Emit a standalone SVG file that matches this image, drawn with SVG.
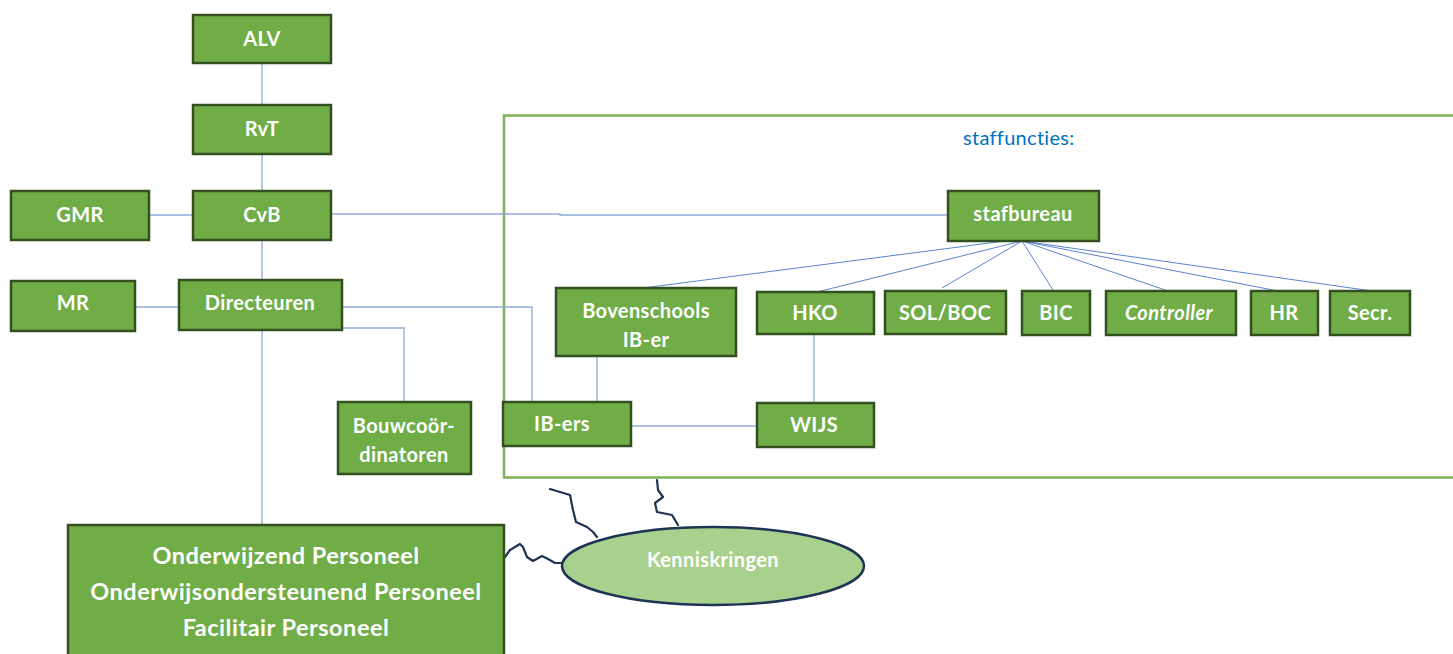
<svg xmlns="http://www.w3.org/2000/svg" width="1453" height="654" viewBox="0 0 1453 654">
<style>
.n{fill:#70ad47;stroke:#344f20;stroke-width:2.5}
.t{font-family:Lato,"Liberation Sans",sans-serif;font-weight:bold;fill:#fff;font-size:20px;letter-spacing:0.4px;text-anchor:middle}
.big{font-size:23.5px;letter-spacing:0.5px}
.c{fill:none;stroke:#8eaadb;stroke-width:1.3}
.s{fill:none;stroke:#5b84d0;stroke-width:1}
.w{fill:none;stroke:#1f3354;stroke-width:2.2;stroke-linejoin:round;stroke-linecap:round}
</style>
<rect width="1453" height="654" fill="#fff"/>
<g id="staff-frame">
<rect x="504" y="115.5" width="955" height="362" fill="none" stroke="#7db257" stroke-width="2.5"/>
<text x="963" y="145" font-family="Lato,'Liberation Sans',sans-serif" font-size="20" letter-spacing="0.3" fill="#0070c0">staffuncties:</text>
</g>
<g id="connectors">
<line class="c" x1="262" y1="63" x2="262" y2="105"/>
<line class="c" x1="262" y1="154" x2="262" y2="191"/>
<line class="c" x1="149" y1="215" x2="193" y2="215"/>
<polyline class="c" points="331,214 560,214 560,215 948,215"/>
<line class="c" x1="262" y1="240" x2="262" y2="280"/>
<line class="c" x1="135" y1="307" x2="179" y2="307"/>
<polyline class="c" points="342,307 532,307 532,402"/>
<polyline class="c" points="342,328 404,328 404,402"/>
<line class="c" x1="262" y1="330" x2="262" y2="525"/>
<line class="c" x1="597" y1="356" x2="597" y2="402"/>
<line class="c" x1="631" y1="426" x2="756" y2="426"/>
<line class="c" x1="814" y1="334" x2="814" y2="403"/>
<line class="s" x1="1005" y1="241" x2="643" y2="288"/>
<line class="s" x1="1022" y1="241" x2="817" y2="292"/>
<line class="s" x1="1022" y1="241" x2="942" y2="288"/>
<line class="s" x1="1022" y1="241" x2="1053" y2="290"/>
<line class="s" x1="1022" y1="241" x2="1168" y2="291"/>
<line class="s" x1="1022" y1="241" x2="1278" y2="291"/>
<line class="s" x1="1022" y1="241" x2="1372" y2="291"/>
<polyline class="w" points="505,557 510,550 520,544 523,547 527,557 533,561 542,556 548,559 555,563 562,563"/>
<polyline class="w" points="550,489 570,495 573,510 576,522 587,527 593,532 597,537"/>
<polyline class="w" points="657,480 658,490 663,497 655,503 657,512 672,515 678,525"/>
</g>
<g id="ALV"><rect class="n" x="193" y="15" width="138" height="48"/><text class="t" x="262" y="46">ALV</text></g>
<g id="RvT"><rect class="n" x="193" y="105" width="138" height="49"/><text class="t" x="262" y="136">RvT</text></g>
<g id="CvB"><rect class="n" x="193" y="191" width="138" height="49"/><text class="t" x="262" y="222">CvB</text></g>
<g id="GMR"><rect class="n" x="11" y="191" width="138" height="49"/><text class="t" x="80" y="222">GMR</text></g>
<g id="MR"><rect class="n" x="11" y="281" width="124" height="50"/><text class="t" x="73" y="310">MR</text></g>
<g id="Directeuren"><rect class="n" x="179" y="280" width="163" height="50"/><text class="t" x="260" y="310">Directeuren</text></g>
<g id="Bouwcoordinatoren"><rect class="n" x="338" y="402" width="133" height="72"/><text class="t" x="404" y="433">Bouwcoör-</text><text class="t" x="404" y="462">dinatoren</text></g>
<g id="Personeel"><rect class="n" x="68" y="525" width="436" height="140"/>
<text class="t big" x="286" y="564">Onderwijzend Personeel</text>
<text class="t big" x="286" y="600">Onderwijsondersteunend Personeel</text>
<text class="t big" x="286" y="636">Facilitair Personeel</text></g>
<g id="Kenniskringen"><ellipse cx="713" cy="566" rx="151" ry="39" fill="#a9d18e" stroke="#1f3354" stroke-width="2.5"/><text class="t" x="713" y="567" font-size="18.5">Kenniskringen</text></g>
<g id="stafbureau"><rect class="n" x="948" y="191" width="151" height="50"/><text class="t" x="1023" y="221">stafbureau</text></g>
<g id="BovenschoolsIBer"><rect class="n" x="556" y="288" width="180" height="68"/><text class="t" x="646" y="318">Bovenschools</text><text class="t" x="646" y="347">IB-er</text></g>
<g id="HKO"><rect class="n" x="757" y="292" width="117" height="42"/><text class="t" x="815" y="320">HKO</text></g>
<g id="SOLBOC"><rect class="n" x="885" y="291" width="121" height="43"/><text class="t" x="945" y="320">SOL/BOC</text></g>
<g id="BIC"><rect class="n" x="1022" y="291" width="68" height="44"/><text class="t" x="1056" y="320">BIC</text></g>
<g id="Controller"><rect class="n" x="1106" y="291" width="130" height="44"/><text class="t" x="1169" y="320" font-style="italic">Controller</text></g>
<g id="HR"><rect class="n" x="1251" y="291" width="67" height="44"/><text class="t" x="1284" y="320">HR</text></g>
<g id="Secr"><rect class="n" x="1330" y="291" width="80" height="44"/><text class="t" x="1370" y="320">Secr.</text></g>
<g id="IBers"><rect class="n" x="503" y="402" width="128" height="44"/><text class="t" x="562" y="431">IB-ers</text></g>
<g id="WIJS"><rect class="n" x="757" y="403" width="117" height="44"/><text class="t" x="814" y="432">WIJS</text></g>
</svg>
